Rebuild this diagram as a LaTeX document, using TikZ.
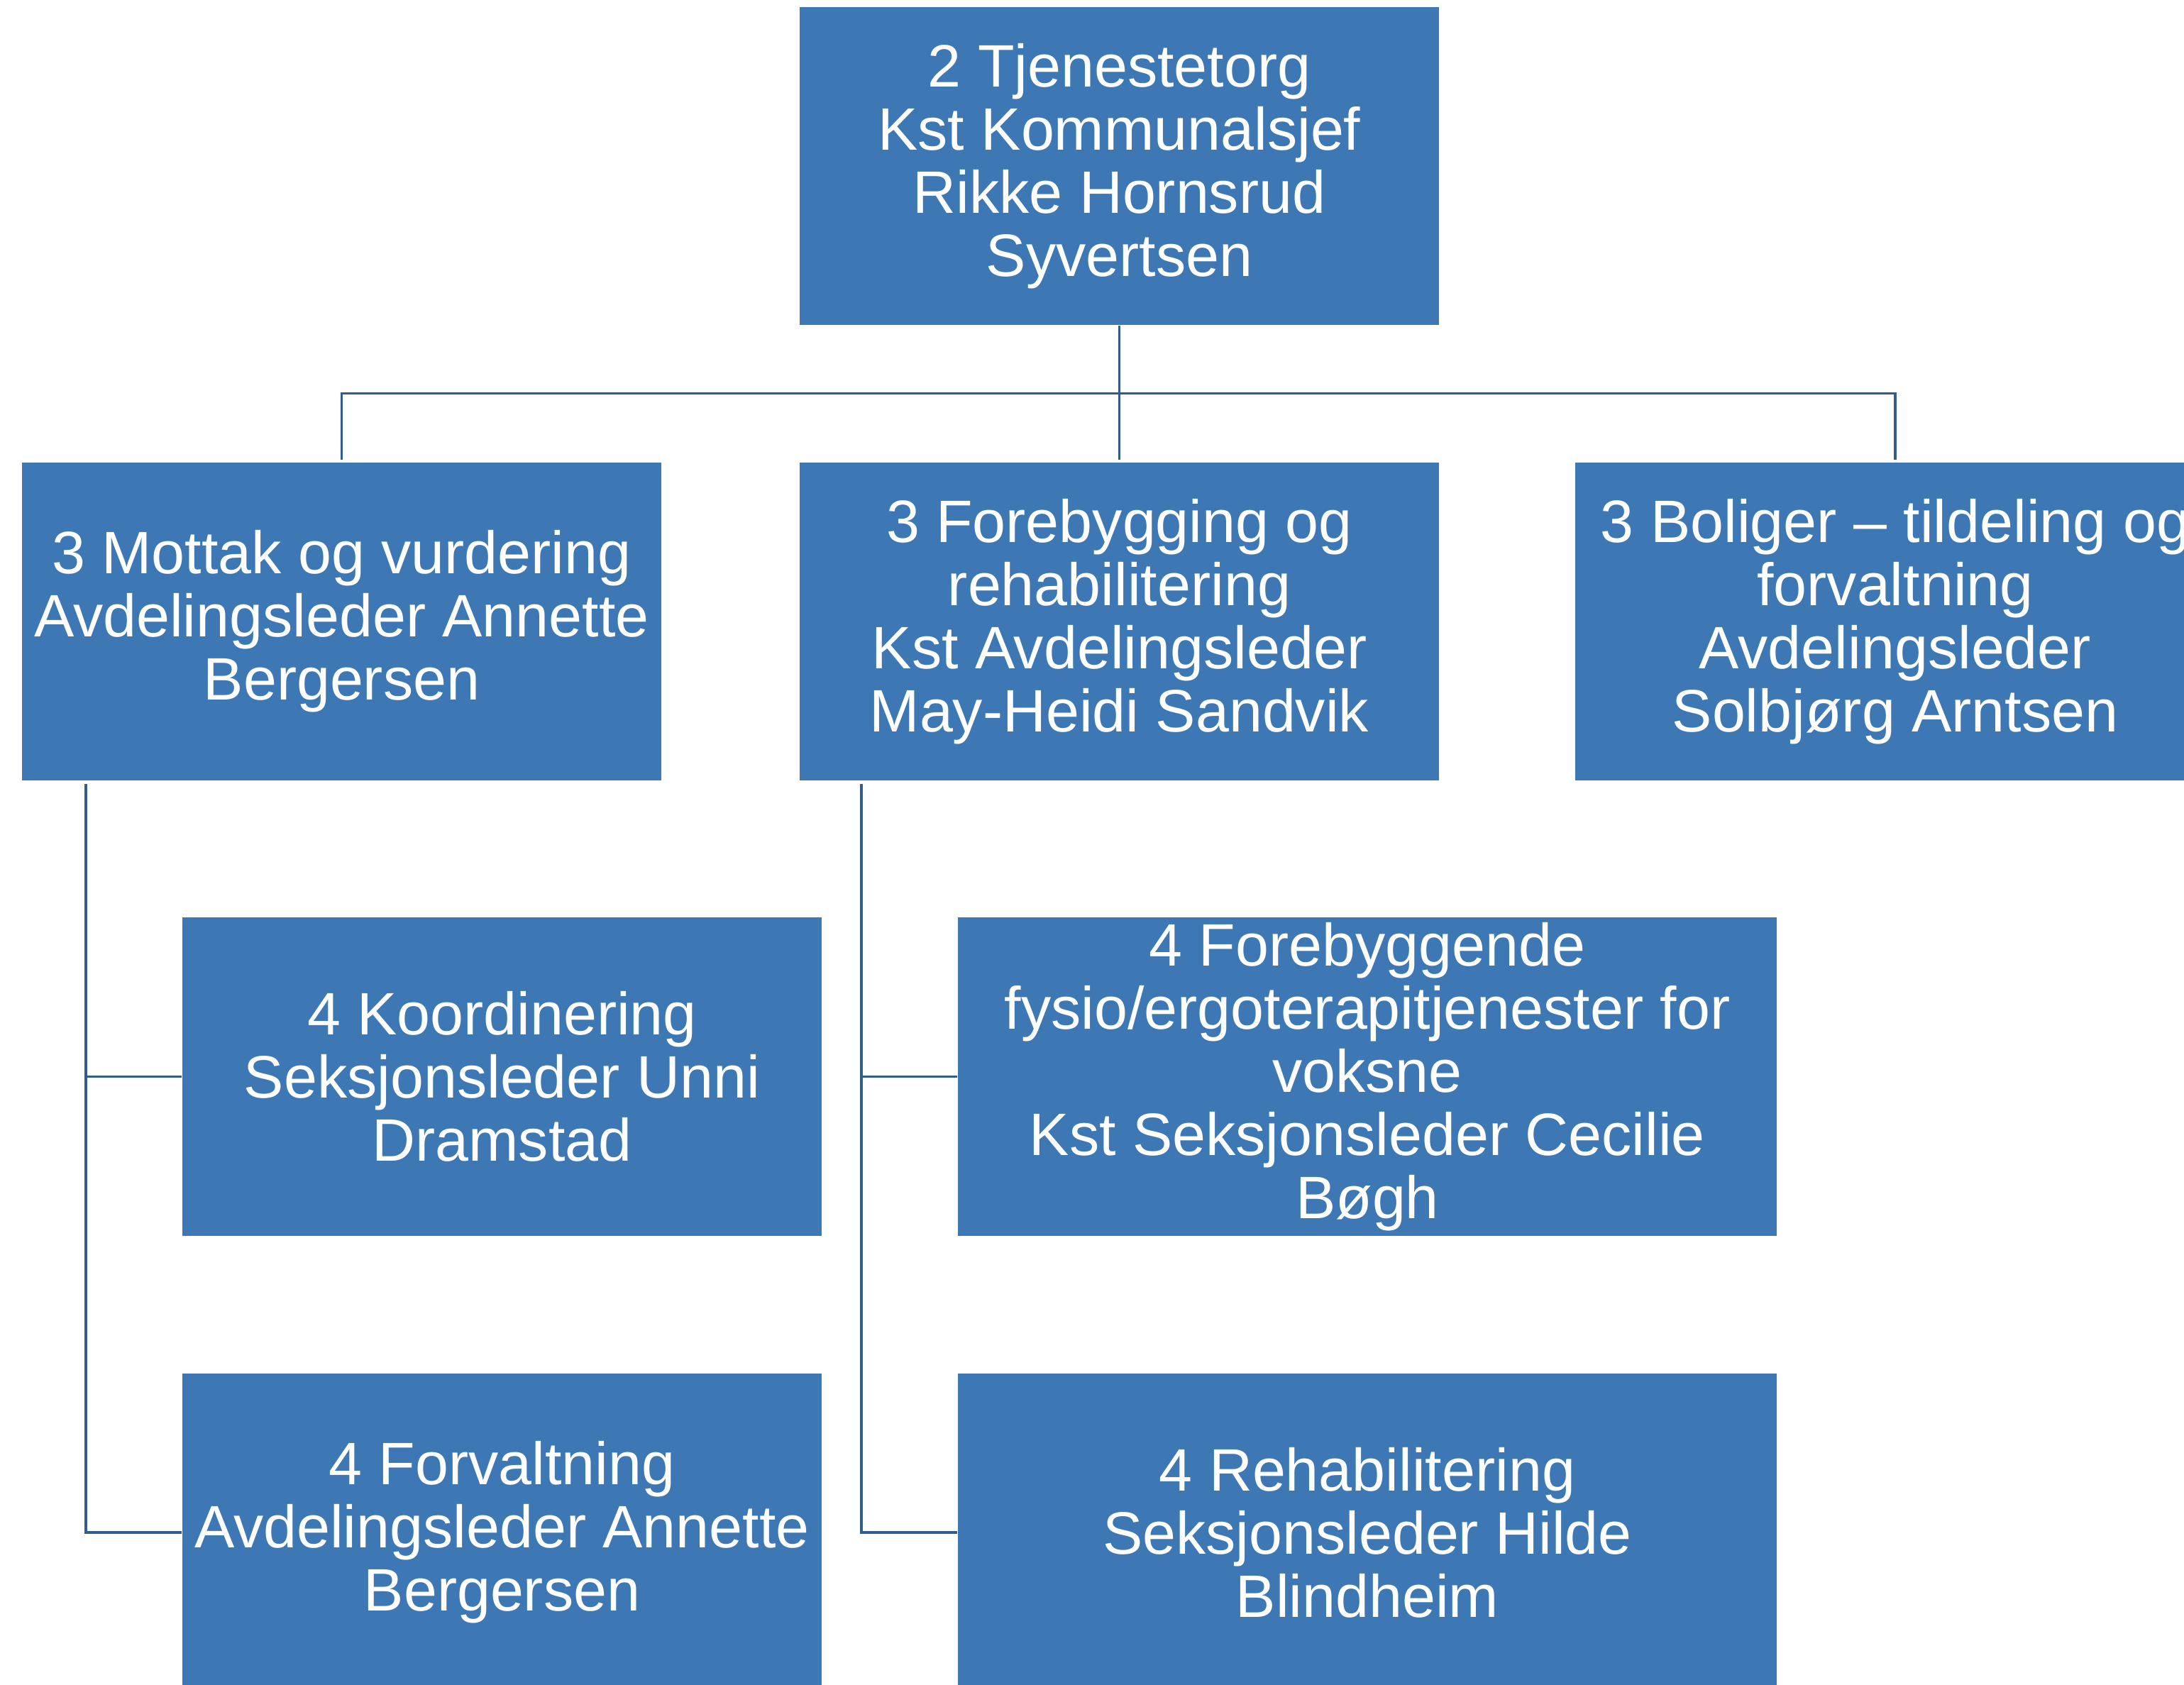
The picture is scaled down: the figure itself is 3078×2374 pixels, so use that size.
\documentclass[tikz,border=0pt]{standalone}
\usepackage{fontspec}
\setmainfont{Liberation Sans}
\usetikzlibrary{calc}

\definecolor{boxblue}{RGB}{61,120,180}
\definecolor{lineblue}{RGB}{50,92,142}

\begin{document}
\begin{tikzpicture}[x=0.01cm, y=-0.01cm,
	unit/.style={rectangle, fill=boxblue, text=white, align=center, inner sep=0pt,
		minimum width=9.01cm, minimum height=4.48cm,
		font=\fontsize{24}{25.3}\selectfont},
	wideunit/.style={unit, minimum width=11.53cm},
	conn/.style={draw=lineblue, line width=0.9pt}]

		\clip (0,0) rectangle (3078,2374);
		\fill[white] (0,0) rectangle (3078,2374);

		\node[unit] (tjenestetorg) at (1577.5,234) {2 Tjenestetorg\\Kst Kommunalsjef\\Rikke Hornsrud\\Syvertsen};

		\node[unit] (mottak) at (481.5,876) {3 Mottak og vurdering\\Avdelingsleder Annette\\Bergersen};
		\node[unit] (forebygging) at (1577.5,876) {3 Forebygging og\\rehabilitering\\Kst Avdelingsleder\\May-Heidi Sandvik};
		\node[unit] (boliger) at (2671,876) {3 Boliger -- tildeling og\\forvaltning\\Avdelingsleder\\Solbjørg Arntsen};

		\node[unit] (koordinering) at (707.5,1517.5) {4 Koordinering\\Seksjonsleder Unni\\Dramstad};
		\node[unit] (forvaltning) at (707.5,2160) {4 Forvaltning\\Avdelingsleder Annette\\Bergersen};
		\node[wideunit] (forebyggende) at (1927,1517.5) {4 Forebyggende\\fysio/ergoterapitjenester for\\voksne\\Kst Seksjonsleder Cecilie\\Bøgh};
		\node[wideunit] (rehab) at (1927,2160) {4 Rehabilitering\\Seksjonsleder Hilde\\Blindheim};

		\coordinate (bus) at ($(tjenestetorg.south)+(0,96)$);
		\coordinate (mstem) at ($(mottak.south west)+(91,4)$);
		\coordinate (fstem) at ($(forebygging.south west)+(88,4)$);

		\draw[conn] (tjenestetorg.south) -- (bus);
		\draw[conn] (bus) -| ([yshift=1pt]mottak.north);
		\draw[conn] (bus) -| ([yshift=1pt]boliger.north);
		\draw[conn] (bus) -- ([yshift=1pt]forebygging.north);

		\draw[conn] (mstem) |- (koordinering.west);
		\draw[conn] (mstem) |- (forvaltning.west);
		\draw[conn] (fstem) |- (forebyggende.west);
		\draw[conn] (fstem) |- (rehab.west);

	\end{tikzpicture}
\end{document}
